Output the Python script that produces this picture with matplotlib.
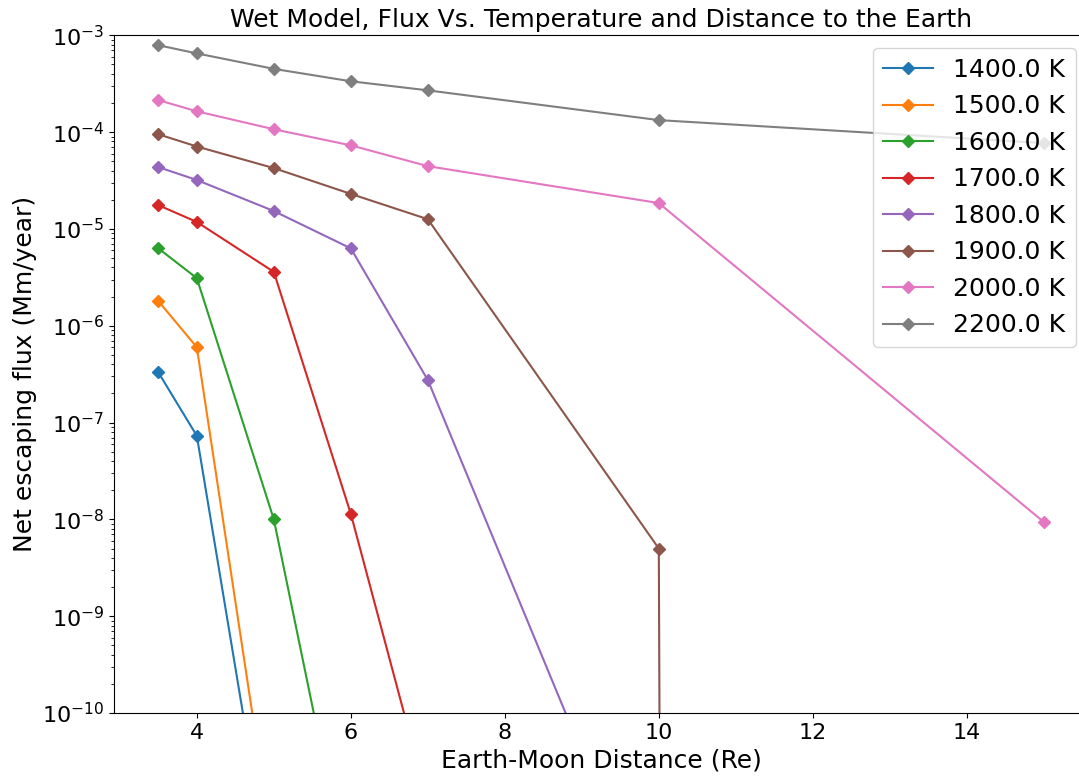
import matplotlib
matplotlib.use("Agg")
import matplotlib.pyplot as plt

# Earth-Moon distance (Re)
distance = [3.5, 4, 5, 6, 7, 10, 15]

# net escaping flux (Mm/year) for each temperature
flux_1400 = [3.3e-7, 7.3e-8, 1.2e-12, 0.0, 0.0, 0.0, 0.0]
flux_1500 = [1.8e-6, 6.0e-7, 3.4e-12, 0.0, 0.0, 0.0, 0.0]
flux_1600 = [6.3e-6, 3.1e-6, 1.0e-8, 1.4e-12, 0.0, 0.0, 0.0]
flux_1700 = [1.76e-5, 1.18e-5, 3.6e-6, 1.14e-8, 1.2e-11, 0.0, 0.0]
flux_1800 = [4.35e-5, 3.2e-5, 1.53e-5, 6.3e-6, 2.75e-7, 4.7e-13, 0.0]
flux_1900 = [9.5e-5, 7.1e-5, 4.25e-5, 2.3e-5, 1.26e-5, 5.0e-9, 0.0]
flux_2000 = [2.14e-4, 1.64e-4, 1.07e-4, 7.3e-5, 4.45e-5, 1.85e-5, 9.4e-9]
flux_2200 = [7.9e-4, 6.5e-4, 4.5e-4, 3.35e-4, 2.7e-4, 1.33e-4, 7.7e-5]

temps = [1400.0, 1500.0, 1600.0, 1700.0, 1800.0, 1900.0, 2000.0, 2200.0]
fluxes = [flux_1400, flux_1500, flux_1600, flux_1700,
          flux_1800, flux_1900, flux_2000, flux_2200]

fig = plt.figure(figsize=(10.79, 7.79), dpi=100)
ax = fig.add_axes([0.1057, 0.0847, 0.9027, 0.870])

for t, f in zip(temps, fluxes):
    ax.plot(distance, f, marker='D', label=str(t) + ' K')

ax.set_yscale('log')
ax.set_ylim(1e-10, 1e-3)
ax.set_xlabel('Earth-Moon Distance (Re)', fontsize=18)
ax.set_ylabel('Net escaping flux (Mm/year)', fontsize=18)
ax.set_title('Wet Model, Flux Vs. Temperature and Distance to the Earth', fontsize=18)
ax.tick_params(labelsize=16)
ax.legend(loc='upper right', fontsize=18)

fig.savefig('out.png', dpi=100)
